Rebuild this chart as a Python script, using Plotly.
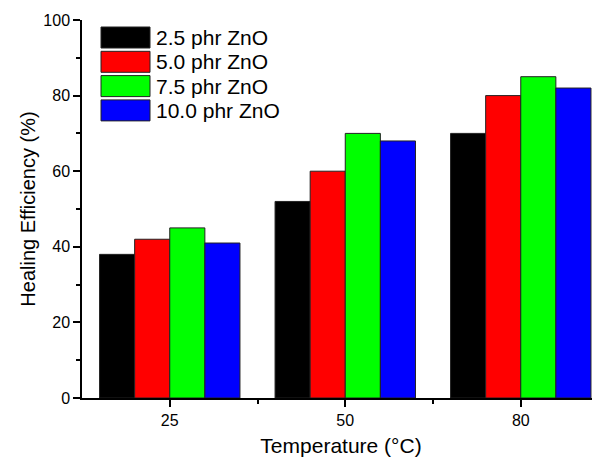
import plotly.graph_objects as go

temps = ["25", "50", "80"]
series_names = ["2.5 phr ZnO", "5.0 phr ZnO", "7.5 phr ZnO", "10.0 phr ZnO"]
eff_2_5 = [38, 52, 70]
eff_5_0 = [42, 60, 80]
eff_7_5 = [45, 70, 85]
eff_10_0 = [41, 68, 82]
colors = ["#000000", "#ff0000", "#00ff00", "#0000ff"]

series = [eff_2_5, eff_5_0, eff_7_5, eff_10_0]
xpos = list(range(len(temps)))
FONT = "Arial, Liberation Sans, sans-serif"

fig = go.Figure()
for name, vals, col in zip(series_names, series, colors):
    fig.add_trace(go.Bar(
        x=xpos, y=vals, name=name, marker=dict(color=col, line=dict(color="#222", width=1)),
        showlegend=False,
    ))

# page body has an 8px margin; the figure is drawn at (8, 8)
OFF = 8
W, H = 600 - OFF, 457 - OFF
ml, mr, mt, mb = 82 - OFF, 0, 20 - OFF, 59
pw, ph = W - ml - mr, H - mt - mb

def px2paper_x(px):
    return (px - OFF - ml) / pw

def px2paper_y(py):
    return (H - mb - (py - OFF)) / ph

# custom legend (large swatches like the original)
shapes = []
annotations = []
row_top = 27
row_h = 21
pitch = 24.3
for i, (name, col) in enumerate(zip(series_names, colors)):
    y0 = row_top + i * pitch
    y1 = y0 + row_h
    shapes.append(dict(type="rect", xref="paper", yref="paper",
                       x0=px2paper_x(101), x1=px2paper_x(150),
                       y0=px2paper_y(y1), y1=px2paper_y(y0),
                       fillcolor=col, line=dict(color="#222", width=1)))
    annotations.append(dict(xref="paper", yref="paper", x=px2paper_x(154),
                            y=px2paper_y((y0 + y1) / 2), text=name, showarrow=False,
                            xanchor="left", yanchor="middle",
                            font=dict(family=FONT, size=21, color="#000")))

plot_right_px = 600
x_units_per_px = 1 / 175.0

fig.update_layout(
    width=W, height=H,
    margin=dict(l=ml, r=mr, t=mt, b=mb, autoexpand=False),
    paper_bgcolor="white", plot_bgcolor="white",
    barmode="group", bargap=0.2, bargroupgap=0,
    font=dict(family=FONT, size=16, color="#000"),
    shapes=shapes, annotations=annotations,
    xaxis=dict(
        range=[-0.5, 2 + (plot_right_px - 521) * x_units_per_px],
        tickmode="array", tickvals=xpos, ticktext=temps,
        ticks="outside", ticklen=7, tickwidth=1.5, tickcolor="#000",
        showline=True, linecolor="#000", linewidth=1.5,
        showgrid=False, zeroline=False,
        minor=dict(tickmode="array", tickvals=[0.5, 1.5], ticks="outside", ticklen=4,
                   tickwidth=1.5, tickcolor="#000", showgrid=False),
        tickfont=dict(size=16, family=FONT, color="#000"),
        title=dict(text="Temperature (°C)", font=dict(size=21, family=FONT, color="#000"), standoff=12),
    ),
    xaxis2=dict(
        overlaying="x", side="top", range=[0, pw / 105.0],
        tickmode="linear", tick0=0, dtick=1, showticklabels=False,
        ticks="inside", ticklen=7, tickwidth=1.5, tickcolor="#000",
        showline=True, linecolor="#000", linewidth=1.5,
        showgrid=False, zeroline=False,
        minor=dict(dtick=0.5, ticks="inside", ticklen=4, tickwidth=1.5, tickcolor="#000", showgrid=False),
    ),
    yaxis=dict(
        range=[0, 100], tickmode="linear", tick0=0, dtick=20,
        ticks="outside", ticklen=7, tickwidth=1.5, tickcolor="#000",
        showline=True, linecolor="#000", linewidth=1.5,
        showgrid=False, zeroline=False,
        minor=dict(dtick=10, ticks="outside", ticklen=4, tickwidth=1.5, tickcolor="#000", showgrid=False),
        tickfont=dict(size=16, family=FONT, color="#000"),
        title=dict(text="Healing Efficiency (%)", font=dict(size=20, family=FONT, color="#000"), standoff=2),
    ),
)

fig.write_html("out.html")
